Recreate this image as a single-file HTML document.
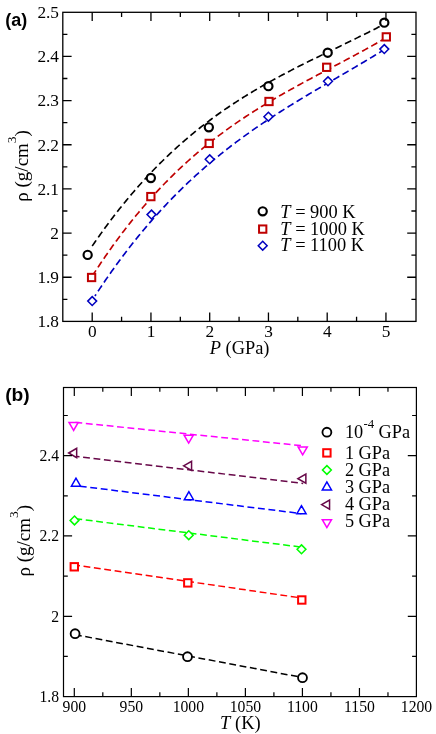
<!DOCTYPE html>
<html><head><meta charset="utf-8"><title>density plots</title>
<style>html,body{margin:0;padding:0;background:#fff;}svg{display:block;will-change:transform;transform:translateZ(0);}text{fill:#000;}</style></head><body>
<svg width="436" height="734" viewBox="0 0 436 734">
<rect width="436" height="734" fill="#fff"/>
<path d="M92.2 246.08 L93.18 244.65 L94.16 243.22 L95.15 241.79 L96.14 240.36M98.24 237.37 L99.24 235.95 L100.24 234.53 L101.25 233.12 L102.26 231.71M104.41 228.75 L105.44 227.35 L106.46 225.95 L107.5 224.56 L108.53 223.16M110.73 220.24 L111.78 218.85 L112.83 217.47 L113.88 216.1 L114.94 214.72M117.19 211.84 L118.26 210.47 L119.34 209.11 L120.42 207.75 L121.5 206.4M123.8 203.55 L124.9 202.21 L126 200.87 L127.11 199.53 L128.22 198.19M130.57 195.39 L131.69 194.07 L132.82 192.75 L133.95 191.43 L135.09 190.12M137.49 187.37 L138.64 186.07 L139.8 184.77 L140.95 183.48 L142.12 182.19M144.58 179.48 L145.75 178.2 L146.93 176.93 L148.12 175.66 L149.3 174.4M151.82 171.74 L153.02 170.49 L154.23 169.24 L155.44 168 L156.66 166.76M159.23 164.16 L160.46 162.94 L161.69 161.72 L162.93 160.5 L164.17 159.29M166.8 156.75 L168.06 155.55 L169.32 154.36 L170.58 153.17 L171.85 151.98M174.54 149.5 L175.82 148.33 L177.11 147.17 L178.4 146.01 L179.7 144.85M182.44 142.43 L183.75 141.29 L185.06 140.16 L186.38 139.03 L187.7 137.9M190.5 135.55 L191.83 134.44 L193.17 133.33 L194.52 132.23 L195.86 131.14M198.72 128.85 L200.08 127.77 L201.44 126.7 L202.81 125.63 L204.18 124.57M207.08 122.35 L208.47 121.3 L209.86 120.26 L211.25 119.22 L212.64 118.19M215.6 116.03 L217.01 115.02 L218.42 114.01 L219.83 113 L221.25 112M224.25 109.91 L225.68 108.93 L227.12 107.95 L228.55 106.98 L229.99 106.01M233.04 103.98 L234.49 103.03 L235.94 102.08 L237.4 101.14 L238.86 100.2M241.95 98.24 L243.42 97.31 L244.89 96.4 L246.37 95.48 L247.84 94.57M250.97 92.67 L252.46 91.78 L253.95 90.89 L255.44 90 L256.93 89.12M260.09 87.28 L261.6 86.41 L263.1 85.55 L264.61 84.69 L266.12 83.83M269.31 82.04 L270.82 81.2 L272.34 80.36 L273.87 79.52 L275.39 78.69M278.6 76.95 L280.13 76.13 L281.66 75.31 L283.2 74.49 L284.73 73.68M287.97 71.98 L289.51 71.18 L291.05 70.38 L292.59 69.59 L294.14 68.79M297.39 67.13 L298.94 66.34 L300.49 65.56 L302.04 64.78 L303.59 64M306.86 62.37 L308.42 61.59 L309.97 60.82 L311.53 60.05 L313.08 59.28M316.37 57.67 L317.93 56.91 L319.48 56.15 L321.04 55.38 L322.61 54.62M325.89 53.03 L327.46 52.27 L329.02 51.51 L330.58 50.75 L332.14 50M335.43 48.41 L337 47.65 L338.56 46.89 L340.12 46.14 L341.68 45.38M344.97 43.79 L346.54 43.03 L348.1 42.27 L349.66 41.51 L351.22 40.75M354.51 39.15 L356.06 38.38 L357.62 37.62 L359.18 36.85 L360.74 36.08M364.01 34.46 L365.57 33.69 L367.12 32.91 L368.67 32.14 L370.22 31.36M373.49 29.71 L375.04 28.92 L376.58 28.14 L378.13 27.35 L379.67 26.55M382.92 24.87 L383.68 24.48 L384.44 24.08 L385.19 23.69 L385.95 23.29" fill="none" stroke="#000" stroke-width="1.65"/>
<path d="M92.2 276.16 L93.13 274.71 L94.06 273.27 L95 271.83 L95.93 270.39M97.92 267.37 L98.87 265.94 L99.83 264.51 L100.78 263.08 L101.74 261.66M103.78 258.66 L104.75 257.25 L105.72 255.83 L106.7 254.42 L107.69 253.01M109.77 250.05 L110.76 248.65 L111.76 247.25 L112.76 245.85 L113.76 244.46M115.89 241.54 L116.91 240.15 L117.93 238.77 L118.96 237.39 L119.98 236.01M122.16 233.12 L123.2 231.76 L124.25 230.39 L125.3 229.03 L126.35 227.68M128.58 224.83 L129.64 223.48 L130.71 222.13 L131.79 220.79 L132.86 219.45M135.14 216.64 L136.23 215.32 L137.33 213.99 L138.43 212.67 L139.53 211.35M141.86 208.59 L142.98 207.28 L144.1 205.98 L145.22 204.68 L146.35 203.38M148.74 200.67 L149.88 199.38 L151.02 198.1 L152.17 196.82 L153.33 195.55M155.77 192.88 L156.94 191.62 L158.11 190.36 L159.28 189.11 L160.46 187.86M162.96 185.25 L164.16 184.01 L165.35 182.78 L166.55 181.55 L167.76 180.33M170.32 177.76 L171.53 176.56 L172.76 175.35 L173.99 174.15 L175.22 172.95M177.83 170.45 L179.07 169.26 L180.32 168.08 L181.58 166.91 L182.84 165.74M185.5 163.29 L186.77 162.14 L188.05 160.99 L189.33 159.84 L190.61 158.7M193.33 156.31 L194.63 155.19 L195.93 154.07 L197.24 152.95 L198.55 151.84M201.32 149.51 L202.64 148.41 L203.97 147.32 L205.3 146.23 L206.63 145.15M209.45 142.89 L210.8 141.82 L212.15 140.76 L213.5 139.7 L214.86 138.65M217.73 136.45 L219.1 135.41 L220.47 134.38 L221.85 133.35 L223.23 132.32M226.15 130.19 L227.54 129.18 L228.93 128.17 L230.33 127.18 L231.73 126.18M234.7 124.1 L236.11 123.12 L237.52 122.15 L238.94 121.18 L240.36 120.21M243.36 118.2 L244.79 117.24 L246.23 116.3 L247.66 115.36 L249.1 114.42M252.14 112.46 L253.59 111.53 L255.04 110.61 L256.49 109.69 L257.95 108.78M261.02 106.87 L262.49 105.97 L263.95 105.08 L265.42 104.18 L266.89 103.3M269.99 101.44 L271.47 100.56 L272.95 99.68 L274.43 98.81 L275.91 97.95M279.04 96.13 L280.53 95.27 L282.02 94.42 L283.52 93.57 L285.01 92.72M288.16 90.94 L289.66 90.11 L291.16 89.27 L292.66 88.43 L294.17 87.6M297.34 85.86 L298.84 85.03 L300.35 84.21 L301.86 83.39 L303.37 82.57M306.55 80.85 L308.07 80.03 L309.58 79.22 L311.09 78.41 L312.61 77.6M315.8 75.9 L317.32 75.09 L318.84 74.29 L320.35 73.48 L321.87 72.68M325.07 70.99 L326.59 70.18 L328.11 69.38 L329.63 68.58 L331.15 67.78M334.35 66.09 L335.87 65.29 L337.39 64.48 L338.9 63.68 L340.42 62.88M343.62 61.18 L345.14 60.38 L346.65 59.57 L348.17 58.77 L349.69 57.96M352.88 56.25 L354.39 55.44 L355.9 54.62 L357.42 53.81 L358.93 52.99M362.11 51.26 L363.61 50.44 L365.12 49.62 L366.63 48.79 L368.13 47.96M371.3 46.2 L372.8 45.37 L374.29 44.53 L375.79 43.69 L377.29 42.84M380.43 41.05 L381.81 40.26 L383.19 39.47 L384.57 38.67 L385.95 37.87" fill="none" stroke="#bf0000" stroke-width="1.65"/>
<path d="M94.92 296.03 L95.19 295.61 L95.46 295.2 L95.73 294.78 L96 294.37M98.02 291.29 L98.99 289.84 L99.95 288.39 L100.93 286.94 L101.9 285.49M103.97 282.45 L104.95 281.01 L105.94 279.57 L106.93 278.13 L107.93 276.7M110.04 273.68 L111.04 272.26 L112.05 270.83 L113.07 269.41 L114.08 267.99M116.24 265.01 L117.27 263.6 L118.3 262.19 L119.33 260.79 L120.37 259.39M122.57 256.44 L123.62 255.05 L124.68 253.65 L125.73 252.26 L126.79 250.88M129.04 247.97 L130.12 246.59 L131.19 245.22 L132.27 243.85 L133.36 242.48M135.65 239.61 L136.75 238.25 L137.85 236.89 L138.95 235.54 L140.06 234.19M142.41 231.36 L143.53 230.02 L144.65 228.68 L145.78 227.35 L146.91 226.02M149.3 223.23 L150.45 221.91 L151.59 220.6 L152.75 219.28 L153.9 217.97M156.35 215.23 L157.51 213.93 L158.69 212.64 L159.86 211.35 L161.04 210.06M163.54 207.36 L164.73 206.08 L165.93 204.81 L167.12 203.54 L168.33 202.28M170.88 199.63 L172.09 198.38 L173.31 197.13 L174.54 195.88 L175.76 194.64M178.36 192.04 L179.6 190.81 L180.85 189.59 L182.1 188.37 L183.35 187.15M186 184.6 L187.26 183.4 L188.53 182.2 L189.8 181 L191.08 179.81M193.78 177.31 L195.06 176.13 L196.35 174.96 L197.65 173.79 L198.95 172.62M201.7 170.18 L203.01 169.03 L204.32 167.88 L205.64 166.73 L206.96 165.59M209.76 163.2 L211.09 162.08 L212.43 160.95 L213.77 159.83 L215.11 158.72M217.95 156.39 L219.31 155.29 L220.67 154.19 L222.03 153.1 L223.39 152.01M226.28 149.73 L227.65 148.65 L229.03 147.58 L230.41 146.52 L231.8 145.45M234.73 143.23 L236.12 142.18 L237.52 141.13 L238.92 140.09 L240.32 139.05M243.29 136.88 L244.7 135.85 L246.12 134.83 L247.54 133.82 L248.96 132.8M251.96 130.68 L253.39 129.68 L254.83 128.68 L256.26 127.69 L257.7 126.7M260.73 124.62 L262.18 123.64 L263.63 122.67 L265.08 121.7 L266.53 120.73M269.6 118.7 L271.05 117.74 L272.52 116.78 L273.98 115.83 L275.44 114.88M278.54 112.89 L280.01 111.95 L281.48 111.02 L282.96 110.08 L284.43 109.15M287.55 107.2 L289.03 106.28 L290.51 105.36 L292 104.44 L293.49 103.52M296.62 101.6 L298.11 100.69 L299.6 99.79 L301.1 98.88 L302.59 97.98M305.74 96.08 L307.24 95.19 L308.74 94.29 L310.24 93.4 L311.74 92.51M314.9 90.63 L316.4 89.74 L317.91 88.86 L319.41 87.97 L320.92 87.09M324.09 85.23 L325.6 84.34 L327.1 83.46 L328.61 82.58 L330.12 81.7M333.29 79.85 L334.8 78.97 L336.31 78.09 L337.82 77.21 L339.33 76.33M342.5 74.48 L344.01 73.6 L345.52 72.72 L347.03 71.84 L348.53 70.96M351.71 69.1 L353.21 68.22 L354.72 67.34 L356.22 66.45 L357.73 65.57M360.9 63.7 L362.4 62.81 L363.9 61.92 L365.4 61.03 L366.9 60.14M370.06 58.25 L371.55 57.35 L373.05 56.45 L374.55 55.55 L376.04 54.65M379.18 52.74 L380.67 51.83 L382.16 50.91 L383.65 50 L385.13 49.08" fill="none" stroke="#0000bf" stroke-width="1.65"/>
<circle cx="87.65" cy="254.9" r="4.1" fill="#fff" stroke="#000" stroke-width="2.15" stroke-linejoin="miter"/>
<circle cx="150.85" cy="178" r="4.1" fill="#fff" stroke="#000" stroke-width="2.15" stroke-linejoin="miter"/>
<circle cx="208.85" cy="127.3" r="4.1" fill="#fff" stroke="#000" stroke-width="2.15" stroke-linejoin="miter"/>
<circle cx="268.4" cy="86.2" r="4.1" fill="#fff" stroke="#000" stroke-width="2.15" stroke-linejoin="miter"/>
<circle cx="327.7" cy="52.7" r="4.1" fill="#fff" stroke="#000" stroke-width="2.15" stroke-linejoin="miter"/>
<circle cx="384.3" cy="22.65" r="4.1" fill="#fff" stroke="#000" stroke-width="2.15" stroke-linejoin="miter"/>
<rect x="87.94" y="273.85" width="7.31" height="7.31" fill="#fff" stroke="#bf0000" stroke-width="2" stroke-linejoin="miter"/>
<rect x="147.19" y="192.94" width="7.31" height="7.31" fill="#fff" stroke="#bf0000" stroke-width="2" stroke-linejoin="miter"/>
<rect x="205.54" y="139.75" width="7.31" height="7.31" fill="#fff" stroke="#bf0000" stroke-width="2" stroke-linejoin="miter"/>
<rect x="265.35" y="97.84" width="7.31" height="7.31" fill="#fff" stroke="#bf0000" stroke-width="2" stroke-linejoin="miter"/>
<rect x="323.05" y="63.64" width="7.31" height="7.31" fill="#fff" stroke="#bf0000" stroke-width="2" stroke-linejoin="miter"/>
<rect x="382.65" y="33.24" width="7.31" height="7.31" fill="#fff" stroke="#bf0000" stroke-width="2" stroke-linejoin="miter"/>
<polygon points="92.2,296.65 96.65,301.1 92.2,305.55 87.75,301.1" fill="#fff" stroke="#0000bf" stroke-width="1.5" stroke-linejoin="miter"/>
<polygon points="151.5,210.15 155.95,214.6 151.5,219.05 147.05,214.6" fill="#fff" stroke="#0000bf" stroke-width="1.5" stroke-linejoin="miter"/>
<polygon points="209.7,154.85 214.15,159.3 209.7,163.75 205.25,159.3" fill="#fff" stroke="#0000bf" stroke-width="1.5" stroke-linejoin="miter"/>
<polygon points="268.4,112.25 272.85,116.7 268.4,121.15 263.95,116.7" fill="#fff" stroke="#0000bf" stroke-width="1.5" stroke-linejoin="miter"/>
<polygon points="328,76.85 332.45,81.3 328,85.75 323.55,81.3" fill="#fff" stroke="#0000bf" stroke-width="1.5" stroke-linejoin="miter"/>
<polygon points="384.3,44.65 388.75,49.1 384.3,53.55 379.85,49.1" fill="#fff" stroke="#0000bf" stroke-width="1.5" stroke-linejoin="miter"/>
<rect x="62.8" y="12.3" width="353.2" height="309.1" fill="none" stroke="#000" stroke-width="1.3"/>
<path d="M92.2 321.4v-8.8M92.2 12.3v8.8M150.95 321.4v-8.8M150.95 12.3v8.8M209.7 321.4v-8.8M209.7 12.3v8.8M268.45 321.4v-8.8M268.45 12.3v8.8M327.2 321.4v-8.8M327.2 12.3v8.8M385.95 321.4v-8.8M385.95 12.3v8.8M121.58 321.4v-4.6M121.58 12.3v4.6M180.32 321.4v-4.6M180.32 12.3v4.6M239.07 321.4v-4.6M239.07 12.3v4.6M297.82 321.4v-4.6M297.82 12.3v4.6M356.57 321.4v-4.6M356.57 12.3v4.6M62.8 277.24h8.8M416 277.24h-8.8M62.8 233.08h8.8M416 233.08h-8.8M62.8 188.92h8.8M416 188.92h-8.8M62.8 144.76h8.8M416 144.76h-8.8M62.8 100.6h8.8M416 100.6h-8.8M62.8 56.44h8.8M416 56.44h-8.8M62.8 299.32h4.6M416 299.32h-4.6M62.8 255.16h4.6M416 255.16h-4.6M62.8 211h4.6M416 211h-4.6M62.8 166.84h4.6M416 166.84h-4.6M62.8 122.68h4.6M416 122.68h-4.6M62.8 78.52h4.6M416 78.52h-4.6M62.8 34.36h4.6M416 34.36h-4.6" fill="none" stroke="#000" stroke-width="1.3"/>
<text x="59" y="327.2" font-family='"Liberation Serif", serif' font-size="17.3" text-anchor="end" >1.8</text>
<text x="59" y="283.04" font-family='"Liberation Serif", serif' font-size="17.3" text-anchor="end" >1.9</text>
<text x="59" y="238.88" font-family='"Liberation Serif", serif' font-size="17.3" text-anchor="end" >2</text>
<text x="59" y="194.72" font-family='"Liberation Serif", serif' font-size="17.3" text-anchor="end" >2.1</text>
<text x="59" y="150.56" font-family='"Liberation Serif", serif' font-size="17.3" text-anchor="end" >2.2</text>
<text x="59" y="106.4" font-family='"Liberation Serif", serif' font-size="17.3" text-anchor="end" >2.3</text>
<text x="59" y="62.24" font-family='"Liberation Serif", serif' font-size="17.3" text-anchor="end" >2.4</text>
<text x="59" y="18.08" font-family='"Liberation Serif", serif' font-size="17.3" text-anchor="end" >2.5</text>
<text x="92.2" y="336.5" font-family='"Liberation Serif", serif' font-size="17.3" text-anchor="middle" >0</text>
<text x="150.95" y="336.5" font-family='"Liberation Serif", serif' font-size="17.3" text-anchor="middle" >1</text>
<text x="209.7" y="336.5" font-family='"Liberation Serif", serif' font-size="17.3" text-anchor="middle" >2</text>
<text x="268.45" y="336.5" font-family='"Liberation Serif", serif' font-size="17.3" text-anchor="middle" >3</text>
<text x="327.2" y="336.5" font-family='"Liberation Serif", serif' font-size="17.3" text-anchor="middle" >4</text>
<text x="385.95" y="336.5" font-family='"Liberation Serif", serif' font-size="17.3" text-anchor="middle" >5</text>
<text x="5.3" y="26.2" font-family='"Liberation Sans", sans-serif' font-size="18" text-anchor="start" font-weight="bold">(a)</text>
<text x="239.6" y="353.6" font-family='"Liberation Serif", serif' font-size="18.4" text-anchor="middle" ><tspan font-style="italic">P</tspan> (GPa)</text>
<g transform="translate(27.8 201.7) rotate(-90)">
<text x="0" y="0" font-family='"Liberation Serif", serif' font-size="19" text-anchor="start" >&#961; (g/cm<tspan dy="-11.4" font-size="13.5">3</tspan><tspan dy="11.4">)</tspan></text>
</g>
<circle cx="262.7" cy="211.3" r="4.1" fill="#fff" stroke="#000" stroke-width="2.15" stroke-linejoin="miter"/>
<text x="280.3" y="217.8" font-family='"Liberation Serif", serif' font-size="18.4" text-anchor="start" ><tspan font-style="italic">T</tspan> = 900 K</text>
<rect x="259.05" y="225.44" width="7.31" height="7.31" fill="#fff" stroke="#bf0000" stroke-width="2" stroke-linejoin="miter"/>
<text x="280.3" y="234.5" font-family='"Liberation Serif", serif' font-size="18.4" text-anchor="start" ><tspan font-style="italic">T</tspan> = 1000 K</text>
<polygon points="262.7,241.25 267.15,245.7 262.7,250.15 258.25,245.7" fill="#fff" stroke="#0000bf" stroke-width="1.5" stroke-linejoin="miter"/>
<text x="280.3" y="251" font-family='"Liberation Serif", serif' font-size="18.4" text-anchor="start" ><tspan font-style="italic">T</tspan> = 1100 K</text>
<path d="M75.1 634.7L302.5 677.5" fill="none" stroke="#000" stroke-width="1.5" stroke-dasharray="6.85 3.62" stroke-dashoffset="0.15"/>
<path d="M74.3 565L301.8 598" fill="none" stroke="#ff0000" stroke-width="1.5" stroke-dasharray="6.85 3.62" stroke-dashoffset="1.15"/>
<path d="M74.5 518.6L301.5 547.1" fill="none" stroke="#00ff00" stroke-width="1.5" stroke-dasharray="6.85 3.62" stroke-dashoffset="9.6"/>
<path d="M76 485.7L301.5 513.6" fill="none" stroke="#0000ff" stroke-width="1.5" stroke-dasharray="6.9 3.66" stroke-dashoffset="6.76"/>
<path d="M74 456.2L303.2 483.4" fill="none" stroke="#670748" stroke-width="1.5" stroke-dasharray="6.85 3.62" stroke-dashoffset="1.3"/>
<path d="M73.6 422.2L302.7 445.8" fill="none" stroke="#ff00ff" stroke-width="1.5" stroke-dasharray="6.85 3.62" stroke-dashoffset="8.66"/>
<circle cx="75.1" cy="633.7" r="4.45" fill="#fff" stroke="#000" stroke-width="1.85" stroke-linejoin="miter"/>
<circle cx="187.5" cy="656.7" r="4.45" fill="#fff" stroke="#000" stroke-width="1.85" stroke-linejoin="miter"/>
<circle cx="302.5" cy="677.7" r="4.45" fill="#fff" stroke="#000" stroke-width="1.85" stroke-linejoin="miter"/>
<rect x="70.6" y="563.1" width="7.39" height="7.39" fill="#fff" stroke="#ff0000" stroke-width="2" stroke-linejoin="miter"/>
<rect x="184.1" y="579.2" width="7.39" height="7.39" fill="#fff" stroke="#ff0000" stroke-width="2" stroke-linejoin="miter"/>
<rect x="298.1" y="596.3" width="7.39" height="7.39" fill="#fff" stroke="#ff0000" stroke-width="2" stroke-linejoin="miter"/>
<polygon points="74.5,516 78.9,520.4 74.5,524.8 70.1,520.4" fill="#fff" stroke="#00ff00" stroke-width="1.55" stroke-linejoin="miter"/>
<polygon points="188.75,530.8 193.15,535.2 188.75,539.6 184.35,535.2" fill="#fff" stroke="#00ff00" stroke-width="1.55" stroke-linejoin="miter"/>
<polygon points="301.5,544.9 305.9,549.3 301.5,553.7 297.1,549.3" fill="#fff" stroke="#00ff00" stroke-width="1.55" stroke-linejoin="miter"/>
<polygon points="76,478.19 71.4,486.16 80.6,486.16" fill="#fff" stroke="#0000ff" stroke-width="1.5" stroke-linejoin="miter"/>
<polygon points="188.9,491.69 184.3,499.66 193.5,499.66" fill="#fff" stroke="#0000ff" stroke-width="1.5" stroke-linejoin="miter"/>
<polygon points="301.5,505.74 296.9,513.71 306.1,513.71" fill="#fff" stroke="#0000ff" stroke-width="1.5" stroke-linejoin="miter"/>
<polygon points="68.69,453 76.66,448.4 76.66,457.6" fill="#fff" stroke="#670748" stroke-width="1.5" stroke-linejoin="miter"/>
<polygon points="183.59,465.85 191.56,461.25 191.56,470.45" fill="#fff" stroke="#670748" stroke-width="1.5" stroke-linejoin="miter"/>
<polygon points="297.89,478.65 305.86,474.05 305.86,483.25" fill="#fff" stroke="#670748" stroke-width="1.5" stroke-linejoin="miter"/>
<polygon points="73.6,430.41 69,422.44 78.2,422.44" fill="#fff" stroke="#ff00ff" stroke-width="1.5" stroke-linejoin="miter"/>
<polygon points="188.7,443.11 184.1,435.14 193.3,435.14" fill="#fff" stroke="#ff00ff" stroke-width="1.5" stroke-linejoin="miter"/>
<polygon points="302.7,454.86 298.1,446.89 307.3,446.89" fill="#fff" stroke="#ff00ff" stroke-width="1.5" stroke-linejoin="miter"/>
<rect x="63.5" y="387.5" width="352.9" height="309.1" fill="none" stroke="#000" stroke-width="1.2"/>
<path d="M74.3 696.6v-8.6M74.3 387.5v8.6M131.33 696.6v-8.6M131.33 387.5v8.6M188.36 696.6v-8.6M188.36 387.5v8.6M245.39 696.6v-8.6M245.39 387.5v8.6M302.42 696.6v-8.6M302.42 387.5v8.6M359.45 696.6v-8.6M359.45 387.5v8.6M102.81 696.6v-4.3M102.81 387.5v4.3M159.84 696.6v-4.3M159.84 387.5v4.3M216.88 696.6v-4.3M216.88 387.5v4.3M273.91 696.6v-4.3M273.91 387.5v4.3M330.94 696.6v-4.3M330.94 387.5v4.3M387.97 696.6v-4.3M387.97 387.5v4.3M63.5 616.28h8.6M416.4 616.28h-8.6M63.5 535.96h8.6M416.4 535.96h-8.6M63.5 455.64h8.6M416.4 455.64h-8.6M63.5 656.44h4.3M416.4 656.44h-4.3M63.5 576.12h4.3M416.4 576.12h-4.3M63.5 495.8h4.3M416.4 495.8h-4.3M63.5 415.48h4.3M416.4 415.48h-4.3" fill="none" stroke="#000" stroke-width="1.2"/>
<text x="59" y="701.5" font-family='"Liberation Serif", serif' font-size="15.7" text-anchor="end" >1.8</text>
<text x="59" y="621.58" font-family='"Liberation Serif", serif' font-size="15.7" text-anchor="end" >2</text>
<text x="59" y="541.26" font-family='"Liberation Serif", serif' font-size="15.7" text-anchor="end" >2.2</text>
<text x="59" y="460.94" font-family='"Liberation Serif", serif' font-size="15.7" text-anchor="end" >2.4</text>
<text x="74.3" y="711.8" font-family='"Liberation Serif", serif' font-size="15.7" text-anchor="middle" >900</text>
<text x="131.33" y="711.8" font-family='"Liberation Serif", serif' font-size="15.7" text-anchor="middle" >950</text>
<text x="188.36" y="711.8" font-family='"Liberation Serif", serif' font-size="15.7" text-anchor="middle" >1000</text>
<text x="245.39" y="711.8" font-family='"Liberation Serif", serif' font-size="15.7" text-anchor="middle" >1050</text>
<text x="302.42" y="711.8" font-family='"Liberation Serif", serif' font-size="15.7" text-anchor="middle" >1100</text>
<text x="359.45" y="711.8" font-family='"Liberation Serif", serif' font-size="15.7" text-anchor="middle" >1150</text>
<text x="416.48" y="711.8" font-family='"Liberation Serif", serif' font-size="15.7" text-anchor="middle" >1200</text>
<text x="5.2" y="401.2" font-family='"Liberation Sans", sans-serif' font-size="19.2" text-anchor="start" font-weight="bold">(b)</text>
<text x="240.4" y="729.2" font-family='"Liberation Serif", serif' font-size="18.5" text-anchor="middle" ><tspan font-style="italic">T</tspan> (K)</text>
<g transform="translate(29.7 576.5) rotate(-90)">
<text x="0" y="0" font-family='"Liberation Serif", serif' font-size="19" text-anchor="start" >&#961; (g/cm<tspan dy="-11.4" font-size="13.5">3</tspan><tspan dy="11.4">)</tspan></text>
</g>
<circle cx="326.9" cy="432.2" r="4.45" fill="#fff" stroke="#000" stroke-width="1.85" stroke-linejoin="miter"/>
<text x="344.9" y="437.5" font-family='"Liberation Serif", serif' font-size="18.3" text-anchor="start" >10</text>
<text x="363.4" y="428.4" font-family='"Liberation Serif", serif' font-size="12.8" text-anchor="start" >-4</text>
<text x="378.6" y="437.5" font-family='"Liberation Serif", serif' font-size="18.3" text-anchor="start" >GPa</text>
<rect x="323.2" y="449.2" width="7.39" height="7.39" fill="#fff" stroke="#ff0000" stroke-width="2" stroke-linejoin="miter"/>
<text x="344.9" y="458.5" font-family='"Liberation Serif", serif' font-size="18.3" text-anchor="start" >1 GPa</text>
<polygon points="326.9,465.6 331.3,470 326.9,474.4 322.5,470" fill="#fff" stroke="#00ff00" stroke-width="1.55" stroke-linejoin="miter"/>
<text x="344.9" y="475.7" font-family='"Liberation Serif", serif' font-size="18.3" text-anchor="start" >2 GPa</text>
<polygon points="326.9,481.99 322.3,489.96 331.5,489.96" fill="#fff" stroke="#0000ff" stroke-width="1.5" stroke-linejoin="miter"/>
<text x="344.9" y="492.9" font-family='"Liberation Serif", serif' font-size="18.3" text-anchor="start" >3 GPa</text>
<polygon points="321.59,504.6 329.56,500 329.56,509.2" fill="#fff" stroke="#670748" stroke-width="1.5" stroke-linejoin="miter"/>
<text x="344.9" y="510.1" font-family='"Liberation Serif", serif' font-size="18.3" text-anchor="start" >4 GPa</text>
<polygon points="326.9,527.61 322.3,519.64 331.5,519.64" fill="#fff" stroke="#ff00ff" stroke-width="1.5" stroke-linejoin="miter"/>
<text x="344.9" y="527.3" font-family='"Liberation Serif", serif' font-size="18.3" text-anchor="start" >5 GPa</text>
</svg></body></html>
